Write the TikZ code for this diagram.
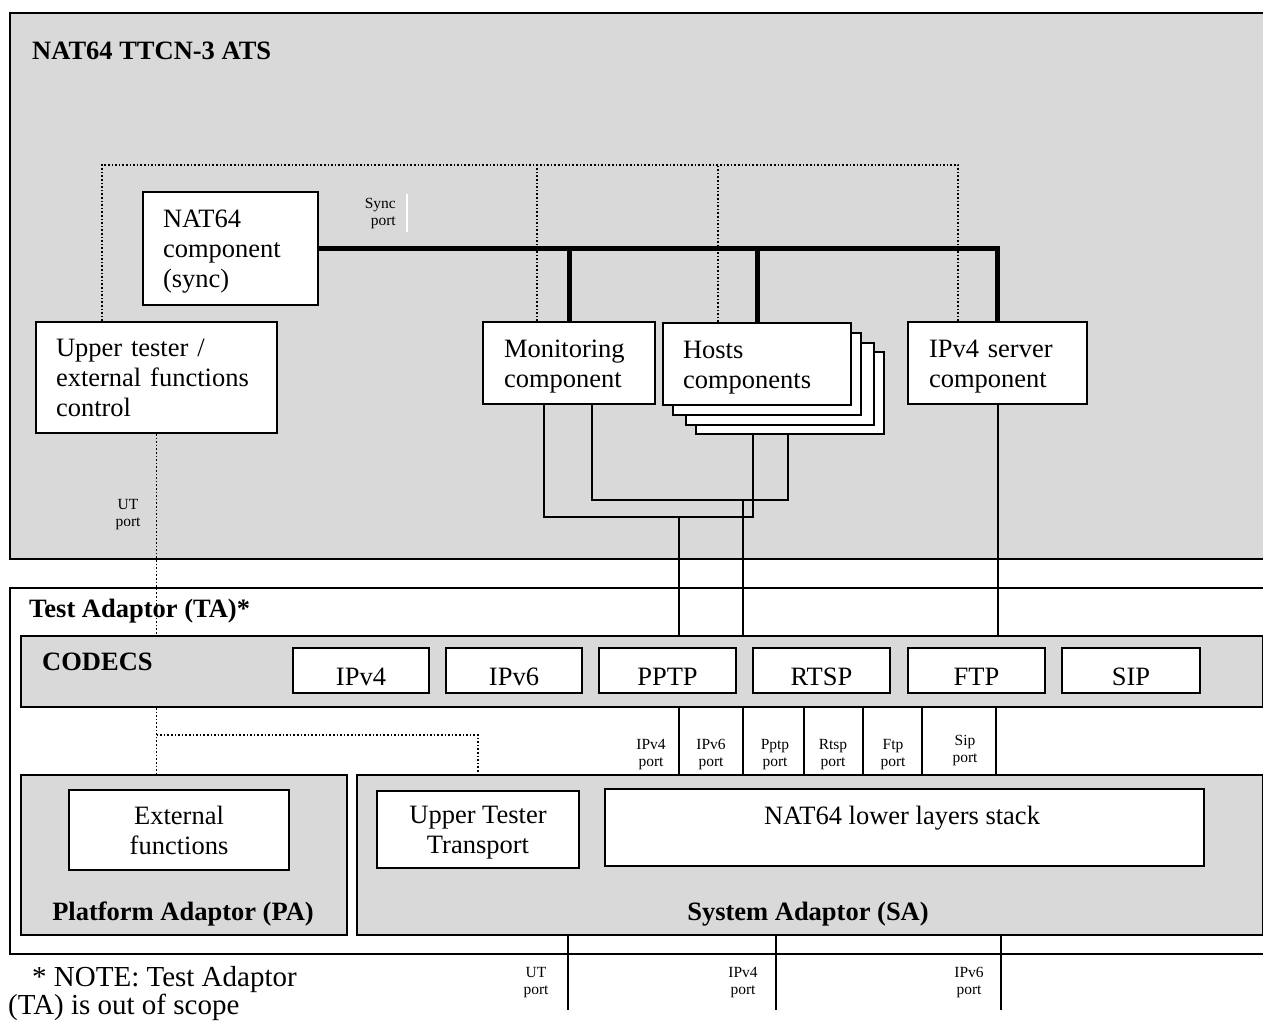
\documentclass[tikz,border=0pt]{standalone}
\usepackage{fontspec}
\setmainfont{Liberation Serif}
\usetikzlibrary{calc}
\definecolor{bggray}{RGB}{217,217,217}
\newcommand\mytopstrut{\rule{0pt}{25pt}}
\newcommand\mybotstrut{\rule[-7pt]{0pt}{7pt}}
\begin{document}
\begin{tikzpicture}[x=1pt,y=-1pt,
  big/.style={font=\fontsize{26.5}{30}\selectfont},
  bigb/.style={font=\fontsize{26.5}{30}\selectfont\bfseries},
  small/.style={font=\fontsize{15.5}{17}\selectfont, align=center, inner sep=0pt},
  notetxt/.style={font=\fontsize{29}{32}\selectfont, inner sep=0pt, anchor=base west},
  frame/.style={draw, line width=2pt, inner sep=0pt, anchor=north west},
  wbox/.style={frame, fill=white},
  gbox/.style={frame, fill=bggray},
  tbox/.style={wbox, big, align=left, inner xsep=20pt, inner ysep=0pt},
  cbox/.style={wbox, big, minimum height=45pt, text height=29pt, text depth=0pt},
  conn/.style={line width=2pt},
  bus/.style={line width=5pt},
  dots/.style={line width=1.6pt, dash pattern=on 1.6pt off 2pt},
  lbl/.style={inner sep=0pt, anchor=base west},
]
\useasboundingbox (0,0) rectangle (1263,1021);

% ---------- containers ----------
\node[gbox, minimum width=1290pt, minimum height=546pt] (ats) at (9,12) {};
\node[wbox, minimum width=1290pt, minimum height=366pt] (ta) at (9,587) {};
\node[gbox, minimum width=1242pt, minimum height=71pt] (codecs) at (20,635) {};
\node[gbox, minimum width=326pt, minimum height=160pt] (pa) at (20,774) {};
\node[gbox, minimum width=906pt, minimum height=160pt] (sa) at (356,774) {};

\node[bigb, lbl] (atsl) at (32,59) {NAT64 TTCN-3 ATS};
\node[bigb, lbl] (tal) at (29,617) {Test Adaptor (TA)*};
\node[bigb, lbl] (codecsl) at (42,670) {CODECS};
\node[bigb, anchor=base] (pal) at (183,920) {Platform Adaptor (PA)};
\node[bigb, anchor=base] (sal) at (808,920) {System Adaptor (SA)};

% ---------- ATS components ----------
\node[tbox, minimum width=175pt, minimum height=113pt, text width=135pt] (nat) at (142,191) {\mytopstrut NAT64\\component\\(sync)\mybotstrut};
\node[tbox, minimum height=111pt, text width=201pt] (ut) at (35,321) {\mytopstrut Upper tester /\\external functions\\control\mybotstrut};
\node[tbox, minimum height=82pt, text width=130pt, inner xsep=21pt] (mon) at (482,321) {\mytopstrut Monitoring\\component\mybotstrut};
\node[wbox, minimum width=188pt, minimum height=82pt] (h4) at (695,351) {};
\node[wbox, minimum width=188pt, minimum height=82pt] (h3) at (685,342) {};
\node[wbox, minimum width=188pt, minimum height=82pt] (h2) at (672,332) {};
\node[tbox, minimum height=82pt, text width=148pt] (hosts) at (662,322) {\mytopstrut Hosts\\components\mybotstrut};
\node[tbox, minimum height=82pt, text width=137pt, inner xsep=21pt] (ipv4s) at (907,321) {\mytopstrut IPv4 server\\component\mybotstrut};

\node[small, anchor=east, align=right] (syncl) at (396,214) {Sync\\port};
\draw[white, line width=2.5pt] (407,194) -- (407,232);
\node[small] (utportl) at (128,515) {UT\\port};

% ---------- codecs ----------
\node[cbox, minimum width=136pt] (cipv4) at (292,647) {IPv4};
\node[cbox, minimum width=136pt] (cipv6) at (445,647) {IPv6};
\node[cbox, minimum width=137pt] (cpptp) at (598,647) {PPTP};
\node[cbox, minimum width=137pt] (crtsp) at (752,647) {RTSP};
\node[cbox, minimum width=137pt] (cftp) at (907,647) {FTP};
\node[cbox, minimum width=138pt] (csip) at (1061,647) {SIP};

% ---------- PA / SA contents ----------
\node[wbox, big, align=center, minimum width=220pt, minimum height=80pt] (ext) at (68,789) {\mytopstrut External\\functions\mybotstrut};
\node[wbox, big, align=center, minimum width=202pt, minimum height=77pt] (utt) at (376,790) {\mytopstrut Upper Tester\\Transport\mybotstrut};
\node[wbox, minimum width=599pt, minimum height=77pt] (stack) at (604,788) {};
\node[big, anchor=base] (stackl) at (902,824) {NAT64 lower layers stack};

% ---------- port labels ----------
\node[small] (pl1) at (651,755) {IPv4\\port};
\node[small] (pl2) at (711,755) {IPv6\\port};
\node[small] (pl3) at (775,755) {Pptp\\port};
\node[small] (pl4) at (833,755) {Rtsp\\port};
\node[small] (pl5) at (893,755) {Ftp\\port};
\node[small] (pl6) at (965,751) {Sip\\port};

\node[small] (bl1) at (536,983) {UT\\port};
\node[small] (bl2) at (743,983) {IPv4\\port};
\node[small] (bl3) at (969,983) {IPv6\\port};

\node[notetxt] (note1) at (32,986) {* NOTE: Test Adaptor};
\node[notetxt] (note2) at (8,1014) {(TA) is out of scope};

% ---------- dotted control links ----------
\draw[dots] ($(ut.north west)+(67,0)$) |- ($(ipv4s.north west)+(51,-156)$) -- ($(ipv4s.north west)+(51,0)$);
\draw[dots] ($(mon.north west)+(55,0)$) -- ++(0,-156);
\draw[dots] ($(hosts.north west)+(56,0)$) -- ++(0,-157);
\draw[dots] (ut.south) -- (ut.south |- codecs.north);
\draw[dots] (ut.south |- codecs.south) -- (ut.south |- pa.north);
\draw[dots] ($(ut.south |- codecs.south)+(0,27)$) -| ($(sa.north west)+(122,0)$);

% ---------- sync bus ----------
\draw[bus] (nat.east) -| (ipv4s.north);
\draw[bus] (mon.north) -- (mon.north |- nat.east);
\draw[bus] (hosts.north) -- (hosts.north |- nat.east);

% ---------- monitoring / hosts links ----------
\draw[conn] ($(mon.south west)+(62,0)$) -- ++(0,112) -| ($(h4.south west)+(58,0)$);
\draw[conn] ($(mon.south west)+(110,0)$) -- ++(0,95) -| ($(h4.south west)+(93,0)$);
\draw[conn] ($(mon.south west)+(197,112)$) coordinate (d1) -- (d1 |- codecs.north);
\draw[conn] ($(mon.south west)+(261,95)$) coordinate (d2) -- (d2 |- codecs.north);
\draw[conn] (ipv4s.south) -- (ipv4s.south |- codecs.north);

% ---------- ports between codecs and SA ----------
\foreach \px in {679,743,804,863,922,996}
  \draw[conn] (\px,0 |- codecs.south) -- (\px,0 |- sa.north);

% ---------- ports below SA ----------
\coordinate (e1) at (568,1010);
\coordinate (e2) at (776,1010);
\coordinate (e3) at (1001,1010);
\draw[conn] (e1 |- sa.south) -- (e1);
\draw[conn] (e2 |- sa.south) -- (e2);
\draw[conn] (e3 |- sa.south) -- (e3);
\end{tikzpicture}
\end{document}
